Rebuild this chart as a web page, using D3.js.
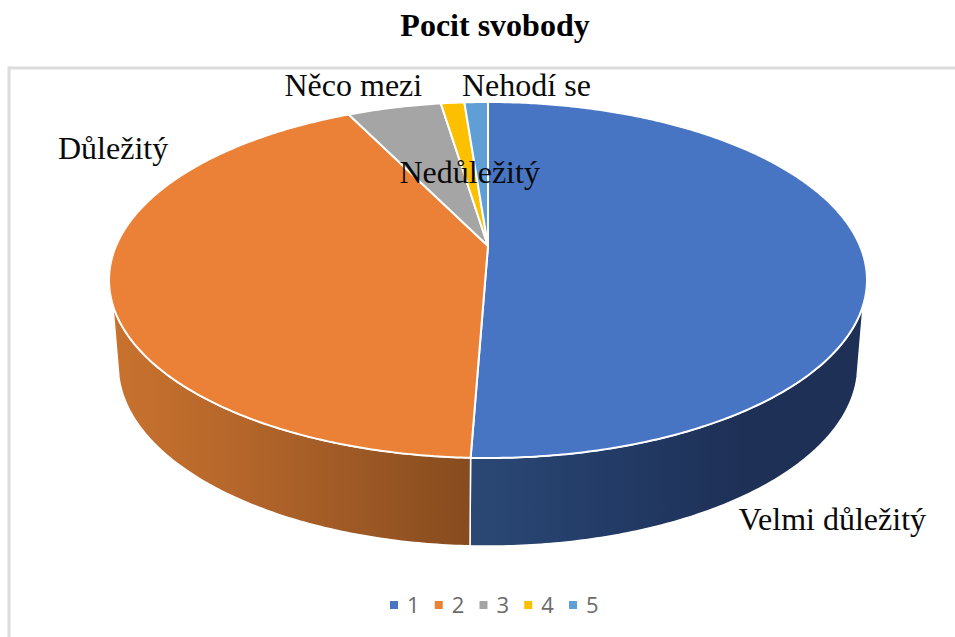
<!DOCTYPE html>
<html lang="cs">
<head>
<meta charset="utf-8">
<title>Pocit svobody</title>
<script src="https://cdn.jsdelivr.net/npm/d3@7"></script>
<style>
html,body{margin:0;padding:0;background:#fff;overflow:hidden}
svg{display:block}
</style>
</head>
<body>
<svg id="chart" width="955" height="637"></svg>
<script>
// Survey answers for "Pocit svobody"
const chartTitle = "Pocit svobody";
const legendKeys = ["1", "2", "3", "4", "5"];
const answers = ["Velmi důležitý", "Důležitý", "Něco mezi", "Nedůležitý", "Nehodí se"];
const counts = [42, 35, 4, 1, 1];
const sliceColors = ["#4875c3", "#ea8136", "#a5a5a5", "#fdc000", "#5f9fd6"];

const svg = d3.select("#chart");
const defs = svg.append("defs");

// Chart frame, open towards the right and bottom of the page
svg.append("path")
  .attr("d", "M955,68H9V637")
  .attr("fill", "none").attr("stroke", "#dcdcdc").attr("stroke-width", 3);

svg.append("text")
  .attr("x", 495).attr("y", 36).attr("text-anchor", "middle")
  .attr("font-family", "Liberation Serif").attr("font-weight", 700)
  .attr("font-size", 32).attr("fill", "#000").text(chartTitle);

// Perspective tilt: the far side of the disc is foreshortened
const tilt = 0.191;
const topDisc = {x: d3.scaleLinear([-1, 1], [488 - 372, 488 + 372]), y: d3.scaleLinear([-1, 1], [246 + 171.5, 246 - 171.5])};
const baseDisc = {x: d3.scaleLinear([-1, 1], [488 - 363, 488 + 363]), y: d3.scaleLinear([-1, 1], [331 + 174, 331 - 174])};

function project(disc, a) {
  const u = Math.sin(a), v = Math.cos(a), w = 1 + tilt * v;
  return [disc.x(u / w), disc.y(v / w)];
}
const arcSamples = (a0, a1) => {
  const n = Math.max(2, Math.ceil((a1 - a0) / 0.01));
  return d3.range(n + 1).map(i => a0 + (a1 - a0) * i / n);
};
const line = d3.line();

const slices = d3.pie().sort(null).value(d => d)(counts);

// Side wall stays visible only below the points where the rim turns away;
// the lower rim turns away a little later than the upper one
const wallStart = Math.PI - Math.acos(0.323);
const wallEnd = 2 * Math.PI - wallStart;
const baseStart = Math.PI - Math.acos(0.25);
const toBaseAngle = d3.scaleLinear([wallStart, wallEnd], [baseStart, 2 * Math.PI - baseStart]);

const wallRamps = [
  {id: "wall0", x1: 471, x2: 860, stops: [[0, "#2b4875"], [0.35, "#233c67"], [0.7, "#1e3056"], [1, "#1e3056"]]},
  {id: "wall1", x1: 112, x2: 471, stops: [[0, "#c9722f"], [0.3, "#b8682b"], [0.7, "#9c5825"], [1, "#864b1e"]]}
];
wallRamps.forEach(r => {
  const g = defs.append("linearGradient").attr("id", r.id)
    .attr("gradientUnits", "userSpaceOnUse")
    .attr("x1", r.x1).attr("x2", r.x2).attr("y1", 0).attr("y2", 0);
  r.stops.forEach(s => g.append("stop").attr("offset", s[0]).attr("stop-color", s[1]));
});

// Side walls of the slices facing the viewer
slices.forEach((s, i) => {
  const a0 = Math.max(s.startAngle, wallStart), a1 = Math.min(s.endAngle, wallEnd);
  if (a1 <= a0) return;
  const angles = arcSamples(a0, a1);
  const outline = angles.map(a => project(topDisc, a))
    .concat(angles.slice().reverse().map(a => project(baseDisc, toBaseAngle(a))));
  svg.append("path")
    .attr("d", line(outline) + "Z")
    .attr("fill", `url(#wall${i})`)
    .attr("stroke", "#fff").attr("stroke-width", 1.5).attr("stroke-linejoin", "round");
});

// Top face
const hub = [topDisc.x(0), topDisc.y(0)];
slices.forEach((s, i) => {
  const rim = arcSamples(s.startAngle, s.endAngle).map(a => project(topDisc, a));
  svg.append("path")
    .attr("d", line([hub, ...rim]) + "Z")
    .attr("fill", sliceColors[i])
    .attr("stroke", "#fff").attr("stroke-width", 2).attr("stroke-linejoin", "round");
});

// Answer labels placed by hand around the disc
const labelPlacement = [[738.5, 530], [58, 159], [284.5, 96], [399.5, 183], [462, 96]];
svg.append("g").selectAll("text").data(answers).join("text")
  .attr("x", (d, i) => labelPlacement[i][0])
  .attr("y", (d, i) => labelPlacement[i][1])
  .attr("font-family", "Liberation Serif").attr("font-size", 32)
  .attr("fill", "#0a0a0a").text(d => d);

// Legend row
const legendX = d3.scalePoint().domain(legendKeys).range([390, 569]);
const legend = svg.append("g").selectAll("g").data(legendKeys).join("g")
  .attr("transform", d => `translate(${legendX(d)},601)`);
legend.append("rect").attr("width", 8).attr("height", 8).attr("fill", (d, i) => sliceColors[i]);
legend.append("text")
  .attr("x", 17).attr("y", 12)
  .attr("font-family", "Open Sans").attr("font-size", 22)
  .attr("fill", "#6b6b6b").text(d => d);
</script>
</body>
</html>
